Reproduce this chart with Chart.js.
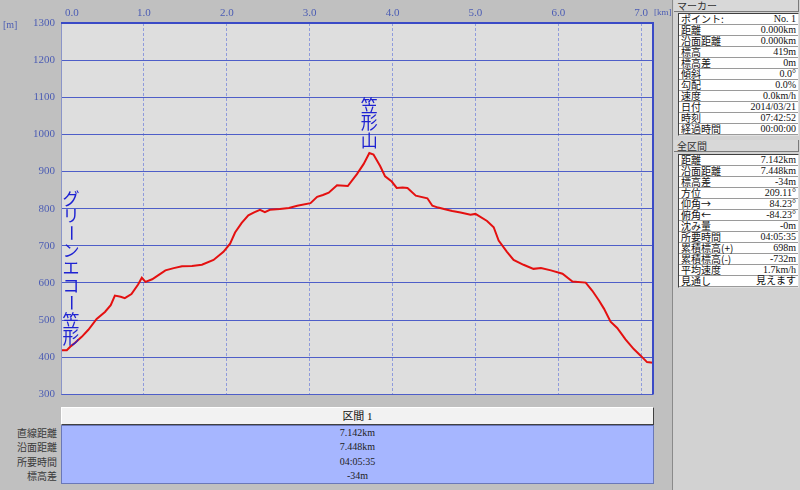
<!DOCTYPE html>
<html lang="ja">
<head>
<meta charset="utf-8">
<script src="https://cdn.jsdelivr.net/npm/chart.js@4.4.1/dist/chart.umd.min.js"></script>
<style>
  html, body { margin: 0; padding: 0; }
  body { width: 800px; height: 490px; overflow: hidden; background: #c0c0c0; position: relative;
         font-family: "Liberation Serif", "Noto Sans CJK JP", serif; }
  #profile { position: absolute; left: 0; top: 0; }
  #secHead { position: absolute; left: 61px; top: 407px; width: 593px; height: 18px; box-sizing: border-box;
             background: #f2f2f2; border: 1px solid; border-color: #ffffff #404040 #404040 #ffffff;
             text-align: center; font-size: 11px; line-height: 16px; color: #111; }
  #secBody { position: absolute; left: 61px; top: 425px; width: 593px; height: 59px; box-sizing: border-box;
             background: #a6b6ff; border: 1px solid #6a78b8; }
  #secBody div, #secLabels div { height: 14.25px; line-height: 14.25px; font-size: 10px; }
  #secBody div { text-align: center; color: #222; }
  #secLabels { position: absolute; left: 0; top: 425px; width: 57px; text-align: right; padding-top: 1px; }
  #secLabels div { color: #3a3a3a; font-family: "Noto Sans CJK JP", sans-serif; }

  #side { position: absolute; left: 672px; top: 0; width: 128px; height: 490px; background: #d2d2d2;
          border-left: 1px solid #8a8a8a; box-sizing: border-box; }
  .tab { position: absolute; left: 1px; width: 125px; height: 12px; box-sizing: border-box; padding-left: 3px;
         background: #d8d8d8; border-bottom: 1px solid #7a7a7a; border-right: 1px solid #7a7a7a;
         font: 10px "Noto Sans CJK JP", sans-serif; line-height: 11px; color: #333; }
  .tbl { position: absolute; left: 5px; width: 121px; background: #ffffff; box-sizing: border-box;
         border: 1px solid; border-color: #404040 #e0e0e0 #e0e0e0 #404040; }
  .tbl div { height: 11px; box-sizing: border-box; border-bottom: 1px solid #9a9a9a; display: flex;
             justify-content: space-between; padding: 0 2px; line-height: 10px; font-size: 10px; color: #111; }
  .tbl span:first-child { font-family: "Noto Sans CJK JP", sans-serif; }
</style>
</head>
<body>
<canvas id="profile" width="672" height="407"></canvas>
<div id="secHead">区間 1</div>
<div id="secLabels"></div>
<div id="secBody"></div>
<div id="side">
  <div class="tab" style="top:0">マーカー</div>
  <div class="tbl" id="markerTbl" style="top:13px"></div>
  <div class="tab" style="top:140px">全区間</div>
  <div class="tbl" id="totalTbl" style="top:154px"></div>
</div>
<script>
// 距離 [km] と 標高 [m]
const distKm = [0, 0.07, 0.12, 0.17, 0.25, 0.33, 0.43, 0.53, 0.60, 0.65, 0.72, 0.77, 0.85, 0.93, 0.975, 1.02, 1.10,
  1.18, 1.26, 1.36, 1.46, 1.58, 1.70, 1.84, 1.96, 2.04, 2.10, 2.18, 2.26, 2.33, 2.40, 2.46, 2.52, 2.64, 2.75, 2.85,
  3.01, 3.09, 3.16, 3.23, 3.33, 3.46, 3.57, 3.65, 3.72, 3.77, 3.85, 3.91, 3.99, 4.05, 4.12, 4.18, 4.28, 4.42, 4.48,
  4.55, 4.62, 4.72, 4.82, 4.94, 5.00, 5.14, 5.22, 5.28, 5.38, 5.46, 5.58, 5.70, 5.79, 5.91, 6.05, 6.17, 6.33,
  6.41, 6.49, 6.55, 6.63, 6.71, 6.81, 6.91, 6.99, 7.07, 7.142];
const elevM = [419, 419, 430, 439, 455, 474, 503, 522, 540, 566, 563, 559, 570, 596, 614, 603, 610,
  622, 634, 640, 645, 646, 649, 662, 684, 706, 736, 762, 782, 790, 797, 791, 797, 799, 802, 808,
  815, 832, 837, 843, 863, 861, 893, 920, 950, 946, 915, 887, 873, 856, 857, 856, 835, 828, 808,
  803, 799, 794, 790, 784, 786, 767, 750, 714, 684, 662, 649, 638, 640, 634, 625, 604, 601,
  579, 553, 531, 496, 479, 448, 422, 405, 387, 385];

// 地名ラベル
const placeNames = ['グリーンエコー笠形', '笠形山'];
const placeKm = [0, 3.72];
const placeElev = [419, 950];

// 区間表
const sectionLabels = ['直線距離', '沿面距離', '所要時間', '標高差'];
const sectionValues = ['7.142km', '7.448km', '04:05:35', '-34m'];

// マーカー表
const markerLabels = ['ポイント:', '距離', '沿面距離', '標高', '標高差', '傾斜', '勾配', '速度', '日付', '時刻', '経過時間'];
const markerValues = ['No. 1', '0.000km', '0.000km', '419m', '0m', '0.0°', '0.0%', '0.0km/h', '2014/03/21', '07:42:52', '00:00:00'];

// 全区間表
const totalLabels = ['距離', '沿面距離', '標高差', '方位', '仰角→', '俯角←', '沈み量', '所要時間', '累積標高(+)', '累積標高(-)', '平均速度', '見通し'];
const totalValues = ['7.142km', '7.448km', '-34m', '209.11°', '84.23°', '-84.23°', '-0m', '04:05:35', '698m', '-732m', '1.7km/h', '見えます'];

function fillRows(id, labels, values) {
  const el = document.getElementById(id);
  labels.forEach((l, i) => {
    const row = document.createElement('div');
    row.innerHTML = '<span>' + l + '</span><span>' + values[i] + '</span>';
    el.appendChild(row);
  });
}
fillRows('markerTbl', markerLabels, markerValues);
fillRows('totalTbl', totalLabels, totalValues);
sectionLabels.forEach((l, i) => {
  const a = document.createElement('div'); a.textContent = l;
  document.getElementById('secLabels').appendChild(a);
  const b = document.createElement('div'); b.textContent = sectionValues[i];
  document.getElementById('secBody').appendChild(b);
});

const AXIS_COLOR = '#4b5cb4';

function drawVerticalName(ctx, text, cx, bottom, step) {
  const chars = Array.from(text);
  const top = bottom - chars.length * step;
  chars.forEach((ch, i) => {
    ctx.save();
    ctx.translate(cx, top + step * (i + 0.5));
    if (ch === 'ー') ctx.rotate(Math.PI / 2);
    ctx.fillText(ch, 0, 0);
    ctx.restore();
  });
}

const profileDecor = {
  id: 'profileDecor',
  beforeDraw(chart) {
    const { ctx, chartArea: a } = chart;
    ctx.save();
    ctx.fillStyle = '#dedede';
    ctx.fillRect(a.left, a.top, a.right - a.left, a.bottom - a.top);
    ctx.restore();
  },
  afterDraw(chart) {
    const { ctx, chartArea: a, scales: { x, y } } = chart;
    ctx.save();
    // 枠
    ctx.strokeStyle = '#8a94c8';
    ctx.lineWidth = 1;
    ctx.beginPath(); ctx.moveTo(a.left + 0.5, a.top); ctx.lineTo(a.left + 0.5, a.bottom); ctx.stroke();
    ctx.strokeStyle = '#3a4ac6';
    ctx.lineWidth = 2;
    ctx.beginPath();
    ctx.moveTo(a.left, a.top); ctx.lineTo(a.right, a.top); ctx.lineTo(a.right, a.bottom);
    ctx.stroke();

    // 距離目盛
    ctx.font = '11px "Liberation Serif"';
    ctx.fillStyle = AXIS_COLOR;
    ctx.textBaseline = 'middle';
    x.ticks.forEach((t, i) => {
      const px = x.getPixelForValue(t.value);
      ctx.textAlign = i === 0 ? 'left' : 'center';
      ctx.fillText(t.value.toFixed(1), i === 0 ? px + 4 : px, 13);
    });
    ctx.textAlign = 'left';
    ctx.font = '9px "Liberation Serif"';
    ctx.fillText('[km]', a.right + 1, 13);
    ctx.font = '10px "Liberation Serif"';
    ctx.fillText('[m]', 3, a.top + 2);

    // 地名
    ctx.font = '17px "Noto Sans CJK JP"';
    ctx.fillStyle = '#1e22d2';
    ctx.textAlign = 'center';
    ctx.textBaseline = 'middle';
    placeNames.forEach((name, i) => {
      const px = x.getPixelForValue(placeKm[i]);
      const py = y.getPixelForValue(placeElev[i]);
      drawVerticalName(ctx, name, Math.max(px, a.left + 10), py - 4, 17.4);
    });
    ctx.restore();
  }
};

new Chart(document.getElementById('profile'), {
  type: 'line',
  data: {
    datasets: [{
      data: distKm.map((d, i) => ({ x: d, y: elevM[i] })),
      borderColor: '#e41010',
      borderWidth: 2,
      pointRadius: 0,
      tension: 0
    }]
  },
  options: {
    responsive: false,
    animation: false,
    layout: { padding: { left: 0, top: 0, right: 19, bottom: 2 } },
    plugins: { legend: { display: false }, tooltip: { enabled: false } },
    scales: {
      x: {
        type: 'linear', position: 'top', min: 0, max: 7.142,
        ticks: { stepSize: 1, includeBounds: false, display: false },
        grid: { color: '#8f9bdc', lineWidth: 1, drawTicks: false },
        border: { display: false, dash: [3, 2] },
        afterFit: s => { s.height = 23; }
      },
      y: {
        min: 300, max: 1300,
        ticks: { stepSize: 100, padding: 6, color: AXIS_COLOR, font: { family: 'Liberation Serif', size: 11 },
                 callback: v => String(v) },
        grid: { color: '#4e5ec8', lineWidth: 1, drawTicks: false },
        border: { display: false },
        afterFit: s => { s.width = 61; }
      }
    }
  },
  plugins: [profileDecor]
});
</script>
</body>
</html>
